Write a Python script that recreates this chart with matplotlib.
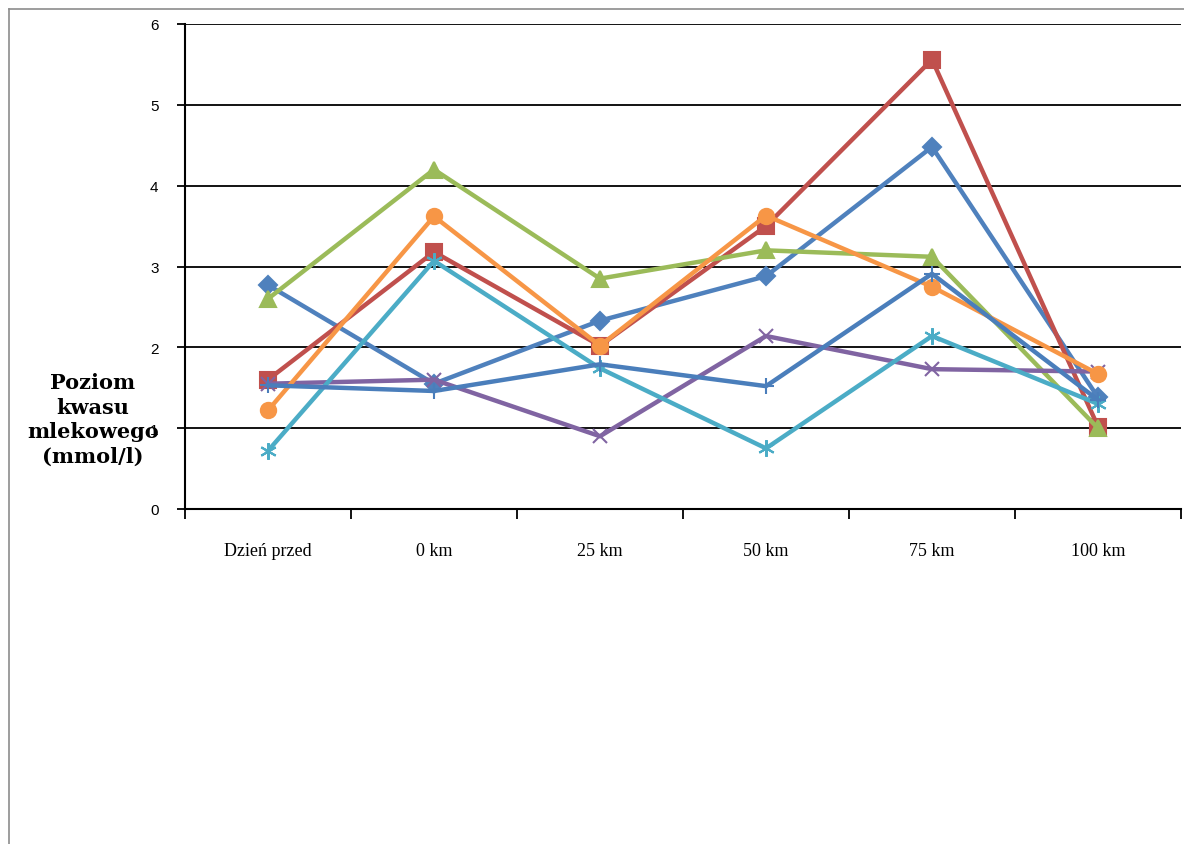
import matplotlib
matplotlib.use("Agg")
import matplotlib.pyplot as plt
from matplotlib.lines import Line2D

categories = ["Dzień przed", "0 km", "25 km", "50 km", "75 km", "100 km"]
series_1 = [2.77, 1.55, 2.33, 2.88, 4.48, 1.38]
series_2 = [1.60, 3.18, 2.02, 3.50, 5.56, 1.02]
series_3 = [2.60, 4.20, 2.85, 3.20, 3.12, 1.00]
series_4 = [1.55, 1.60, 0.90, 2.14, 1.73, 1.70]
series_5 = [0.72, 3.07, 1.74, 0.75, 2.14, 1.30]
series_6 = [1.22, 3.62, 2.02, 3.63, 2.75, 1.67]
series_7 = [1.53, 1.46, 1.79, 1.52, 2.91, 1.35]
y_ticks = [0, 1, 2, 3, 4, 5, 6]

styles = [
    (series_1, "#4F81BD", "D", 9),
    (series_2, "#C0504D", "s", 11),
    (series_3, "#9BBB59", "^", 11),
    (series_4, "#8064A2", "x", 10),
    (series_5, "#4BACC6", (6, 2, 0), 12),
    (series_6, "#F79646", "o", 11),
    (series_7, "#4A7EBB", "+", 12),
]

fig = plt.figure(figsize=(11.84, 8.45), dpi=100)
ax = fig.add_axes([185 / 1184, 1 - 510 / 845, (1181 - 185) / 1184, (510 - 25) / 845])

x = list(range(len(categories)))
for vals, color, marker, ms in styles:
    ax.plot(x, vals, color=color, lw=3.2, marker=marker, markersize=ms,
            markeredgecolor=color, markerfacecolor=color, markeredgewidth=1.5,
            solid_joinstyle="round", clip_on=False, zorder=3)

ax.set_xlim(-0.5, len(categories) - 0.5)
ax.set_ylim(0, 6)
ax.set_yticks(y_ticks)
ax.set_yticklabels([str(v) for v in y_ticks], fontsize=11, family="Liberation Sans")
ax.yaxis.grid(True, color="black", lw=1.3, zorder=1)
ax.set_axisbelow(True)

ax.set_xticks(x)
ax.set_xticklabels(categories, fontsize=13, family="Liberation Serif")
ax.set_xticks([i - 0.5 for i in range(len(categories) + 1)], minor=True)
ax.tick_params(axis="x", which="major", length=0, pad=24)
ax.tick_params(axis="x", which="minor", length=7, width=1.3, direction="out", color="black")
ax.tick_params(axis="y", length=6, width=1.3, direction="out", pad=13)

for side in ("top", "right"):
    ax.spines[side].set_visible(False)
for side in ("left", "bottom"):
    ax.spines[side].set_linewidth(1.5)
    ax.spines[side].set_color("black")

fig.text(93 / 1184, 1 - 420 / 845, "Poziom\nkwasu\nmlekowego\n(mmol/l)",
         ha="center", va="center", fontsize=15, fontweight="bold",
         family="DejaVu Serif", linespacing=1.3)

# outer frame of the chart area
fig.add_artist(Line2D([9 / 1184, 9 / 1184], [0, 1 - 10 / 845], color="#8c8c8c", lw=1.2))
fig.add_artist(Line2D([9 / 1184, 1], [1 - 10 / 845, 1 - 10 / 845], color="#8c8c8c", lw=1.2))

fig.savefig("out.png", dpi=100, facecolor="white")
